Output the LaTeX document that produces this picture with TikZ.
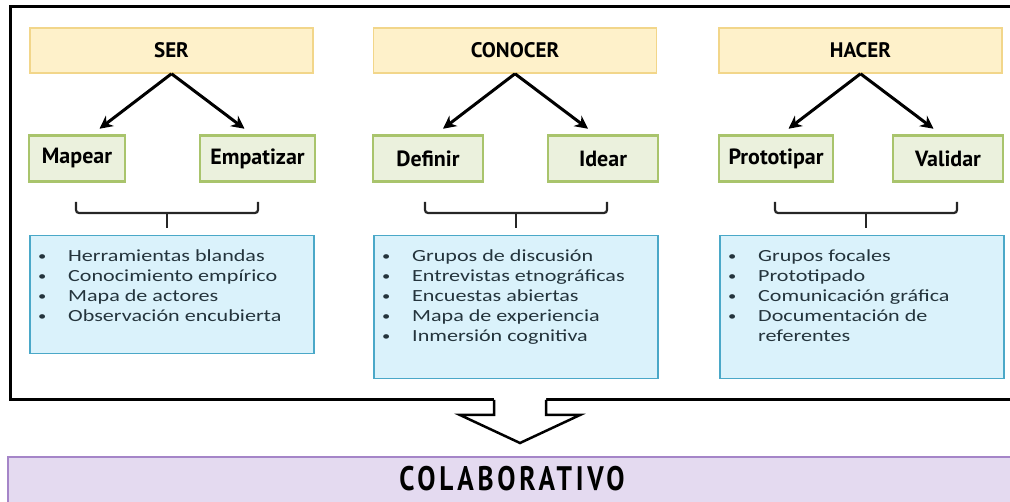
\documentclass[tikz,border=0pt]{standalone}
\usepackage{fontspec}
\setmainfont{Carlito}
\newfontfamily\headfont{PT Sans}
\newfontfamily\listfont[FakeStretch=1.3]{Carlito}
\newfontfamily\bannerfont[FakeStretch=0.8,LetterSpace=11]{PT Sans}
\usetikzlibrary{calc,arrows.meta}

\definecolor{topfill}{HTML}{FEF1CA}
\definecolor{topline}{HTML}{F2D68A}
\definecolor{subfill}{HTML}{EBF1DD}
\definecolor{subline}{HTML}{A9C46C}
\definecolor{listfill}{HTML}{DAF2FB}
\definecolor{listline}{HTML}{4AA8C8}
\definecolor{listtextcol}{HTML}{24343C}
\definecolor{barfill}{HTML}{E4DAF0}
\definecolor{barline}{HTML}{A585C8}
\def\listdot{\raisebox{0.5pt}{\scalebox{0.75}{\textbullet}}}

\tikzset{
  topbox/.style={draw=topline, fill=topfill, line width=1.5pt, minimum width=283pt, minimum height=45pt,
    font=\headfont\bfseries\fontsize{21}{21}\selectfont},
  subbox/.style={draw=subline, fill=subfill, line width=2.5pt, minimum height=46pt,
    font=\headfont\bfseries\fontsize{22}{22}\selectfont},
  listbox/.style={draw=listline, fill=listfill, line width=1.5pt, minimum width=284pt, anchor=north west},
  listtext/.style={anchor=north west, inner xsep=9pt, inner ysep=12pt,
    font=\listfont\fontsize{17}{20}\selectfont, text=listtextcol},
  arr/.style={line width=3pt, -{Stealth[length=13pt,width=13pt]}},
  brace/.style={line width=2.2pt, draw=black!85, rounded corners=3pt}
}

\begin{document}
\begin{tikzpicture}[x=1pt,y=-1pt]
		%%%%% START %%%%%
		\useasboundingbox (0,0) rectangle (1010,502);
		
		\draw[line width=3pt] (10,7) rectangle (1014,400);
		
		\node[topbox] (ser) at (171.5,50.5) {SER};
		\node[topbox] (conocer) at (515,50.5) {CONOCER};
		\node[topbox] (hacer) at (860.5,50.5) {HACER};
		
		\node[subbox, minimum width=96pt] (mapear) at (77,158.5) {Mapear};
		\node[subbox, minimum width=115pt] (empatizar) at (257.5,158.5) {Empatizar};
		\node[subbox, minimum width=110pt] (definir) at (428,158.5) {Definir};
		\node[subbox, minimum width=110pt] (idear) at (603,158.5) {Idear};
		\node[subbox, minimum width=114pt] (prototipar) at (776,158.5) {Prototipar};
		\node[subbox, minimum width=110pt] (validar) at (948,158.5) {Validar};
		
		\foreach \top in {ser,conocer,hacer} {
			\coordinate (\top L) at ($(\top.south)+(-72,55)$);
			\coordinate (\top R) at ($(\top.south)+(73,55)$);
			\draw[arr] (\top.south) -- (\top L);
			\draw[arr] (\top.south) -- (\top R);
		}
		
		\foreach \cx in {167,516,866} {
			\draw[brace] (\cx-91,202) -- (\cx-91,213) -- (\cx+91,213) -- (\cx+91,202);
			\draw[brace, rounded corners=0pt] (\cx,213) -- (\cx,228);
		}
		
		\node[listbox, minimum height=118pt] (serlist) at (29,235) {};
		\node[listbox, minimum height=143pt] (conocerlist) at (373,235) {};
		\node[listbox, minimum height=143pt] (hacerlist) at (719,235) {};
		
		\node[listtext] at (serlist.north west) {\begin{tabular}{@{}p{30pt}@{}l@{}}
			\listdot & Herramientas blandas\\
			\listdot & Conocimiento empírico\\
			\listdot & Mapa de actores\\
			\listdot & Observación encubierta
		\end{tabular}};
		\node[listtext] at (conocerlist.north west) {\begin{tabular}{@{}p{30pt}@{}l@{}}
			\listdot & Grupos de discusión\\
			\listdot & Entrevistas etnográficas\\
			\listdot & Encuestas abiertas\\
			\listdot & Mapa de experiencia\\
			\listdot & Inmersión cognitiva
		\end{tabular}};
		\node[listtext] at (hacerlist.north west) {\begin{tabular}{@{}p{30pt}@{}l@{}}
			\listdot & Grupos focales\\
			\listdot & Prototipado\\
			\listdot & Comunicación gráfica\\
			\listdot & Documentación de\\
			 & referentes
		\end{tabular}};
		
		% hollow arrow out of the frame
		\fill[white] (494,398) -- (494,415) -- (460,415) -- (520,443) -- (580,415) -- (546,415) -- (546,398) -- cycle;
		\draw[line width=2.5pt, line join=miter] (494,400) -- (494,415) -- (460,415) -- (520,443) -- (580,415) -- (546,415) -- (546,400);
		
		\draw[line width=2pt, draw=barline, fill=barfill] (8,457) rectangle (1016,503);
		\node[font=\bannerfont\bfseries\fontsize{34}{34}\selectfont] (colab) at (512,479) {COLABORATIVO};
		
		%%%%% END %%%%%
\end{tikzpicture}
\end{document}
